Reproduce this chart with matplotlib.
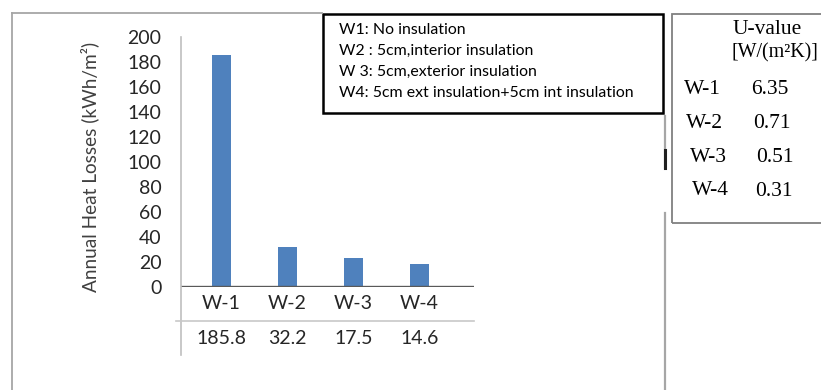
import matplotlib
matplotlib.use("Agg")
import matplotlib.pyplot as plt
from matplotlib.lines import Line2D
from matplotlib.patches import Rectangle

# ---- data ----
categories = ["W-1", "W-2", "W-3", "W-4"]
bar_values = [185.8, 32.2, 23.0, 18.4]          # bar heights as drawn
table_labels = ["185.8", "32.2", "17.5", "14.6"]  # data-table row under axis
yticks = [0, 20, 40, 60, 80, 100, 120, 140, 160, 180, 200]
legend_lines = ["W1: No insulation",
                "W2 : 5cm,interior insulation",
                "W 3: 5cm,exterior insulation",
                "W4: 5cm ext insulation+5cm int insulation"]
u_header = ["U-value", "[W/(m\u00b2K)]"]
u_names = ["W-1", "W-2", "W-3", "W-4"]
u_values = ["6.35", "0.71", "0.51", "0.31"]

W, H = 821, 390
fig = plt.figure(figsize=(W / 100, H / 100), dpi=100)
fig.patch.set_facecolor("white")

def fx(x):
    return x / W

def fy(y):
    return 1 - y / H

SANS = ["Lato", "DejaVu Sans"]
SERIF = ["Liberation Serif", "DejaVu Serif"]
TXT = "#262626"

# ---- axes ----
ax_l, ax_r, ax_t, ax_b = 181, 474, 37, 287
ax = fig.add_axes([fx(ax_l), fy(ax_b), (ax_r - ax_l) / W, (ax_b - ax_t) / H])
pos = list(range(len(categories)))
ax.bar(pos, bar_values, width=0.3, color="#4F81BD", zorder=2)
ax.set_ylim(0, 200)
ax.set_xlim(-0.614, 3.826)
ax.set_yticks(yticks)
ax.set_yticklabels([str(t) for t in yticks], fontsize=14, color=TXT, family=SANS)
ax.set_xticks([])
ax.tick_params(axis="y", length=0, pad=14)
for s in ["top", "right", "left", "bottom"]:
    ax.spines[s].set_visible(False)
ax.set_facecolor("none")

# y axis line (extends through data table)
fig.add_artist(Line2D([fx(ax_l), fx(ax_l)], [fy(ax_t), fy(355)], color="#BFBFBF", lw=1.2))
# zero line
ax.axhline(0, color="#595959", lw=1.7, zorder=3)
# data table separator
fig.add_artist(Line2D([fx(176), fx(ax_r)], [fy(320.5), fy(320.5)], color="#C8C8C8", lw=1.2))

# category labels and table values
for p, c, v in zip(pos, categories, table_labels):
    ax.text(p, -13, c, ha="center", va="center", fontsize=14, color=TXT, family=SANS)
    ax.text(p, -41, v, ha="center", va="center", fontsize=14, color=TXT, family=SANS)

fig.text(fx(90), fy(167), "Annual Heat Losses (kWh/m\u00b2)", rotation=90, ha="center",
         va="center", fontsize=13.7, color="#404040", family=SANS)

# ---- outer frame lines ----
fig.add_artist(Line2D([fx(12), fx(12)], [fy(13), fy(390)], color="#A6A6A6", lw=1.3))
fig.add_artist(Line2D([fx(12), fx(322)], [fy(13), fy(13)], color="#A6A6A6", lw=1.3))
fig.add_artist(Line2D([fx(665), fx(665)], [fy(116), fy(168)], color="#A6A6A6", lw=1.6))
fig.add_artist(Line2D([fx(665), fx(665)], [fy(213), fy(390)], color="#A6A6A6", lw=1.6))
fig.add_artist(Line2D([fx(664.5), fx(664.5)], [fy(150), fy(168)], color="#202020", lw=2.2))

# ---- legend box ----
fig.add_artist(Rectangle((fx(323), fy(113)), (663 - 323) / W, (113 - 14) / H,
                         fill=False, edgecolor="black", lw=1.8))
for i, t in enumerate(legend_lines):
    fig.text(fx(339), fy(30 + i * 21), t, ha="left", va="center", fontsize=11.4,
             color="black", family=SANS)

# ---- U-value box ----
fig.add_artist(Rectangle((fx(672), fy(223)), (830 - 672) / W, (223 - 14) / H,
                         fill=False, edgecolor="#808080", lw=1.3))
fig.text(fx(733), fy(29), u_header[0], ha="left", va="center", fontsize=15.5, family=SERIF)
fig.text(fx(731), fy(53), u_header[1], ha="left", va="center", fontsize=14.4, family=SERIF)
row_y = [89, 123, 157, 190]
name_x = [684, 686, 690, 692]
val_x = [751, 753, 756, 755]
for y, nx, vx, n, v in zip(row_y, name_x, val_x, u_names, u_values):
    fig.text(fx(nx), fy(y), n, ha="left", va="center", fontsize=15.5, family=SERIF)
    fig.text(fx(vx), fy(y + 1), v, ha="left", va="center", fontsize=15.5, family=SERIF)

fig.savefig("out.png", dpi=100)
